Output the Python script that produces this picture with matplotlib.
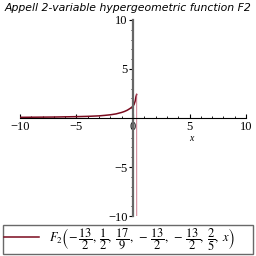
import matplotlib
matplotlib.use('Agg')
import matplotlib.pyplot as plt
from matplotlib.ticker import MultipleLocator

plt.rcParams['mathtext.fontset'] = 'stix'

# curve values
xs = [-10, -9, -8, -7, -6, -5, -4, -3, -2.5, -2, -1.5, -1, -0.75, -0.5, -0.25, 0, 0.1, 0.2, 0.27, 0.32, 0.34]
ys = [0.07, 0.08, 0.09, 0.1, 0.12, 0.14, 0.17, 0.22, 0.27, 0.33, 0.42, 0.57, 0.67, 0.8, 0.98, 1.2, 1.4, 1.75, 2.2, 2.4, -40]
label = (r'$F_2\left(-\,\dfrac{13}{2},\;\dfrac{1}{2},\;\dfrac{17}{9},\;-\,\dfrac{13}{2},\;'
		 r'-\,\dfrac{13}{2},\;\dfrac{2}{5},\;x\right)$')
title = 'Appell 2-variable hypergeometric function F2'
xticks = [-10, -5, 0, 5, 10]
yticks = [-10, -5, 5, 10]

dark = '#7a0a1e'

fig = plt.figure(figsize=(2.56, 2.56), dpi=100)
ax = fig.add_axes([0.078, 0.156, 0.883, 0.766])

ax.plot(xs[:-1], ys[:-1], color=dark, lw=1.1, label=label)
ax.plot(xs[-2:], ys[-2:], color='#c05870', lw=0.8, alpha=0.7)

ax.set_xlim(-10, 10)
ax.set_ylim(-10, 10)

for s in ['top', 'right']:
	ax.spines[s].set_visible(False)
ax.spines['left'].set_position(('data', 0))
ax.spines['bottom'].set_position(('data', 0))
ax.spines['left'].set_color('#666666')
ax.spines['left'].set_linewidth(1.6)
ax.spines['bottom'].set_linewidth(0.8)

ax.set_xticks(xticks)
ax.set_yticks(yticks)
ax.set_xticklabels(['\u221210', '\u22125', '0', '5', '10'], family='Liberation Serif', fontsize=9)
ax.set_yticklabels(['\u221210', '\u22125', '5', '10'], family='Liberation Serif', fontsize=9)
ax.xaxis.set_minor_locator(MultipleLocator(1))
ax.yaxis.set_minor_locator(MultipleLocator(1))
ax.tick_params(axis='x', which='major', direction='in', length=3, pad=2)
ax.tick_params(axis='x', which='minor', direction='in', length=1.5)
ax.tick_params(axis='y', which='major', direction='out', length=3, pad=1)
ax.tick_params(axis='y', which='minor', direction='out', length=1.5)

ax.set_xlabel('x', family='Liberation Serif', style='italic', fontsize=7)
ax.xaxis.set_label_coords(0.76, 0.42)

fig.text(0.5, 0.99, title, ha='center', va='top', fontsize=7.8, style='italic', family='DejaVu Sans')

leg = fig.legend(loc='lower left', bbox_to_anchor=(0.012, 0.006, 0.976, 0.1), fontsize=9, fancybox=False,
				 edgecolor='#444444', handlelength=2.8, borderpad=0.1, mode='expand', borderaxespad=0,
				 bbox_transform=fig.transFigure)
leg.get_frame().set_linewidth(1.0)

fig.savefig('out.png', dpi=100)
